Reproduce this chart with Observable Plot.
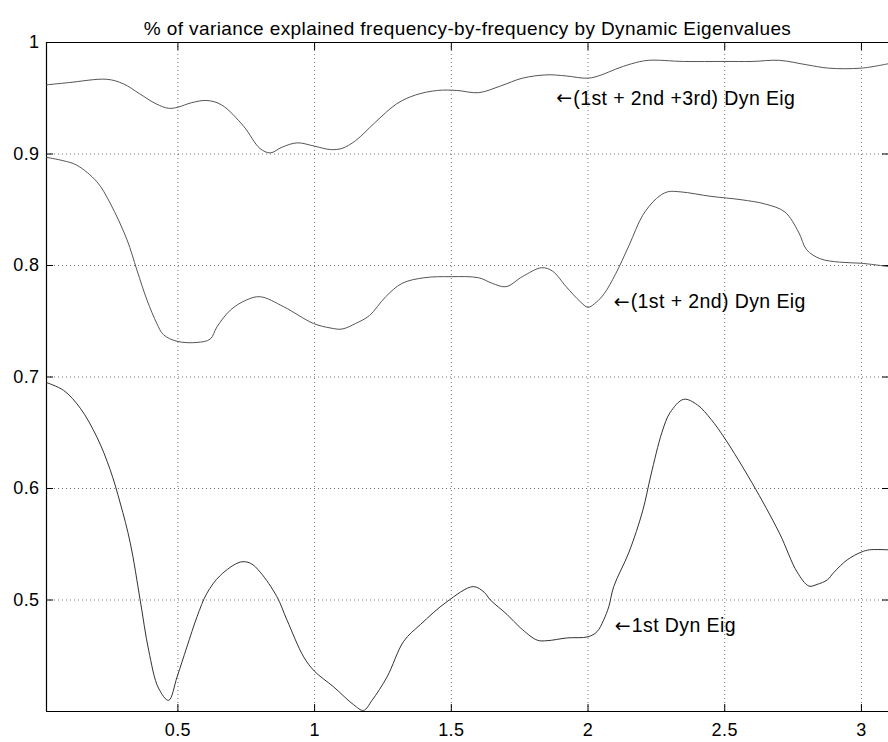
<!DOCTYPE html>
<html>
<head>
<meta charset="utf-8">
<script src="https://cdn.jsdelivr.net/npm/d3@7"></script>
<script src="https://cdn.jsdelivr.net/npm/@observablehq/plot@0.6"></script>
<style>
  html, body { margin: 0; padding: 0; background: #fff; overflow: hidden; }
  svg { display: block; }
</style>
</head>
<body>
<div id="chart"></div>
<script>
const title = "% of variance explained frequency-by-frequency by Dynamic Eigenvalues";

const xDomain = [0.0194, 3.099];
const yDomain = [0.4, 1];
const xTicks = [0.5, 1, 1.5, 2, 2.5, 3];
const yTicks = [0.5, 0.6, 0.7, 0.8, 0.9, 1];

// 1st + 2nd + 3rd dynamic eigenvalues
const freq3 = [0.0194, 0.1, 0.24, 0.30, 0.36, 0.42, 0.466, 0.5, 0.55, 0.606, 0.66, 0.74, 0.80, 0.838, 0.88, 0.936, 1.0, 1.057, 1.1, 1.15, 1.22, 1.3, 1.37, 1.45, 1.52, 1.6, 1.68, 1.76, 1.85, 1.92, 2.0, 2.05, 2.1, 2.16, 2.22, 2.35, 2.5, 2.6, 2.7, 2.8, 2.88, 3.0, 3.099];
const eig3  = [0.962, 0.964, 0.967, 0.963, 0.954, 0.945, 0.941, 0.942, 0.946, 0.948, 0.944, 0.925, 0.905, 0.901, 0.906, 0.910, 0.907, 0.904, 0.905, 0.912, 0.928, 0.945, 0.953, 0.957, 0.957, 0.955, 0.961, 0.968, 0.971, 0.970, 0.968, 0.971, 0.976, 0.981, 0.984, 0.983, 0.983, 0.983, 0.984, 0.980, 0.977, 0.977, 0.981];

// 1st + 2nd dynamic eigenvalues
const freq2 = [0.0194, 0.08, 0.13, 0.204, 0.252, 0.314, 0.35, 0.387, 0.423, 0.447, 0.497, 0.57, 0.618, 0.643, 0.692, 0.75, 0.801, 0.887, 0.996, 1.057, 1.1, 1.15, 1.2, 1.26, 1.32, 1.4, 1.5, 1.6, 1.65, 1.7, 1.76, 1.83, 1.87, 1.92, 1.97, 2.0, 2.03, 2.06, 2.1, 2.15, 2.2, 2.25, 2.29, 2.34, 2.45, 2.56, 2.65, 2.72, 2.77, 2.8, 2.85, 2.92, 3.0, 3.099];
const eig2  = [0.897, 0.894, 0.890, 0.875, 0.856, 0.823, 0.796, 0.769, 0.748, 0.738, 0.732, 0.731, 0.734, 0.745, 0.760, 0.769, 0.772, 0.763, 0.748, 0.744, 0.743, 0.748, 0.755, 0.772, 0.784, 0.789, 0.790, 0.789, 0.784, 0.781, 0.790, 0.798, 0.795, 0.781, 0.768, 0.7625, 0.767, 0.775, 0.792, 0.818, 0.845, 0.860, 0.866, 0.866, 0.862, 0.859, 0.855, 0.848, 0.830, 0.814, 0.806, 0.803, 0.802, 0.799];

// 1st dynamic eigenvalue
const freq1 = [0.0194, 0.082, 0.143, 0.204, 0.252, 0.289, 0.326, 0.362, 0.393, 0.429, 0.466, 0.497, 0.533, 0.570, 0.606, 0.655, 0.728, 0.765, 0.801, 0.862, 0.899, 0.96, 1.0, 1.07, 1.143, 1.179, 1.21, 1.265, 1.326, 1.387, 1.484, 1.58, 1.62, 1.643, 1.704, 1.753, 1.814, 1.85, 1.924, 2.0, 2.033, 2.057, 2.076, 2.094, 2.15, 2.2, 2.23, 2.27, 2.3, 2.35, 2.4, 2.45, 2.5, 2.6, 2.7, 2.765, 2.808, 2.838, 2.875, 2.9, 2.948, 3.0, 3.03, 3.099];
const eig1  = [0.695, 0.688, 0.672, 0.646, 0.617, 0.587, 0.551, 0.500, 0.455, 0.421, 0.410, 0.431, 0.458, 0.485, 0.506, 0.522, 0.534, 0.533, 0.525, 0.503, 0.482, 0.449, 0.436, 0.422, 0.406, 0.401, 0.410, 0.431, 0.463, 0.478, 0.4985, 0.512, 0.507, 0.500, 0.487, 0.475, 0.464, 0.4635, 0.466, 0.467, 0.4716, 0.482, 0.494, 0.512, 0.543, 0.580, 0.612, 0.650, 0.668, 0.680, 0.675, 0.662, 0.645, 0.605, 0.560, 0.525, 0.5125, 0.514, 0.518, 0.525, 0.536, 0.543, 0.545, 0.545];

const annotArrow = "\u2190";
const annotText = ["(1st + 2nd +3rd) Dyn Eig", "(1st + 2nd) Dyn Eig", "1st Dyn Eig"];
const annotX = [1.884, 2.094, 2.098];
const annotY = [0.95, 0.7675, 0.477];

const toRows = (xs, ys) => xs.map((x, i) => ({x, y: ys[i]}));
const s1 = toRows(freq1, eig1);
const s2 = toRows(freq2, eig2);
const s3 = toRows(freq3, eig3);
const annots = annotText.map((t, i) => ({t, x: annotX[i], y: annotY[i]}));

const fmt = d => String(d);
const font = "'Liberation Sans', Arial, Helvetica, sans-serif";

const chart = Plot.plot({
  width: 888,
  height: 742,
  marginLeft: 46,
  marginRight: 0,
  marginTop: 42,
  marginBottom: 31,
  style: {fontFamily: font, fontSize: "18px", background: "#fff", color: "#000", letterSpacing: "0.4px"},
  x: {domain: xDomain, ticks: xTicks, label: null},
  y: {domain: yDomain, ticks: yTicks, label: null},
  marks: [
    Plot.gridX(xTicks, {stroke: "#000", strokeOpacity: 0.55, strokeDasharray: "1,3"}),
    Plot.gridY(yTicks, {stroke: "#000", strokeOpacity: 0.55, strokeDasharray: "1,3"}),
    Plot.axisX(xTicks, {anchor: "bottom", tickSize: 0, tickPadding: 12, tickFormat: fmt, label: null}),
    Plot.axisY(yTicks, {anchor: "left", tickSize: 0, tickPadding: 7, tickFormat: fmt, label: null}),
    Plot.axisX(xTicks, {anchor: "bottom", tickSize: -7, tickFormat: () => "", label: null}),
    Plot.axisX(xTicks, {anchor: "top", tickSize: -7, tickFormat: () => "", label: null}),
    Plot.axisY(yTicks, {anchor: "left", tickSize: -7, tickFormat: () => "", label: null}),
    Plot.axisY(yTicks, {anchor: "right", tickSize: -7, tickFormat: () => "", label: null}),
    Plot.ruleY([yDomain[0], yDomain[1]], {stroke: "#000", strokeWidth: 1.2}),
    Plot.ruleX([xDomain[0]], {stroke: "#000", strokeWidth: 1.2}),
    Plot.line(s3, {x: "x", y: "y", stroke: "#555", strokeWidth: 1, curve: "catmull-rom"}),
    Plot.line(s2, {x: "x", y: "y", stroke: "#555", strokeWidth: 1, curve: "catmull-rom"}),
    Plot.line(s1, {x: "x", y: "y", stroke: "#333", strokeWidth: 1, curve: "catmull-rom"}),
    Plot.text(annots, {x: "x", y: "y", text: () => annotArrow, textAnchor: "start", fill: "#000", fontSize: 19, fontFamily: "'DejaVu Sans', sans-serif"}),
    Plot.text(annots, {x: "x", y: "y", text: "t", textAnchor: "start", dx: 17, fill: "#000", fontSize: 19.5}),
    Plot.text([title], {frameAnchor: "top", dy: -21, fill: "#000", fontSize: 19})
  ]
});
document.getElementById("chart").appendChild(chart);
</script>
</body>
</html>
